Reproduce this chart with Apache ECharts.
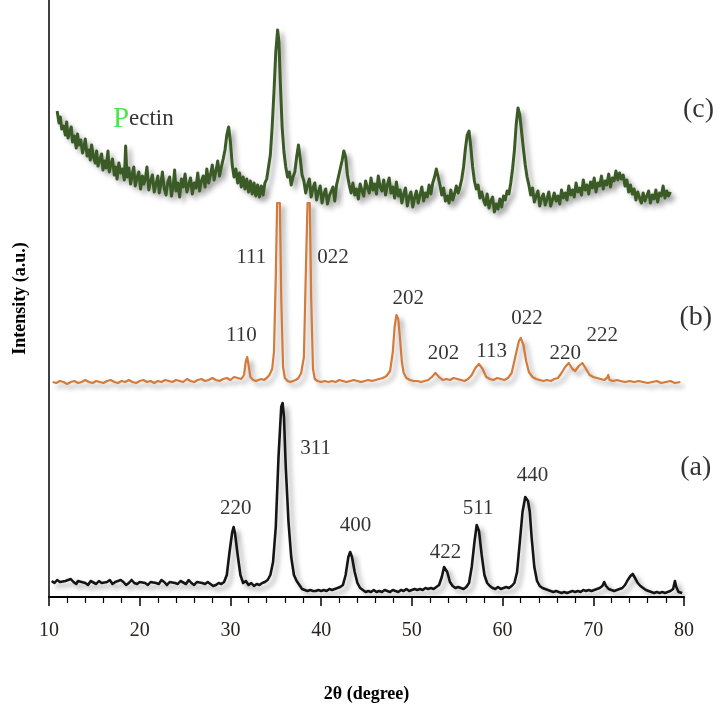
<!DOCTYPE html>
<html><head><meta charset="utf-8">
<script src="https://cdn.jsdelivr.net/npm/echarts@6/dist/echarts.min.js"></script>
<style>html,body{margin:0;padding:0;background:#fff}#c{width:724px;height:716px}</style>
</head><body><div id="c"></div>
<script>
// 2θ tick labels
var xTicks = [10, 20, 30, 40, 50, 60, 70, 80];

// (a) black pattern [2θ, intensity]
var seriesA = [
[10.3,16],[10.6,14],[10.9,17],[11.2,15],[11.4,13],[11.8,16],[12.0,14],[12.4,18],[12.7,15],[13.0,13],[13.2,16],[13.6,15],[14.0,14],[14.3,12],[14.6,16],[14.8,17],[15.2,13],[15.5,16],[15.8,14],[16.0,12],[16.4,15],[16.7,17],[17.0,13],[17.3,15],[17.5,14],[17.9,17],[18.2,15],[18.5,12],[18.8,14],[19.1,17],[19.4,14],[19.7,13],[20.0,15],[20.2,17],[20.6,14],[20.9,12],[21.2,15],[21.4,16],[21.8,14],[22.1,13],[22.4,17],[22.7,15],[23.0,12],[23.3,15],[23.5,17],[23.9,14],[24.2,13],[24.5,16],[24.7,15],[25.1,13],[25.4,17],[25.7,14],[26.0,12],[26.3,15],[26.5,16],[26.9,14],[27.2,13],[27.5,15],[27.8,13],[28.1,11],[28.4,12],[28.7,14],[29.0,13],[29.3,15],[29.6,22],[29.9,45],[30.2,65],[30.35,70],[30.5,64],[30.8,42],[31.1,22],[31.4,14],[31.7,16],[32.0,12],[32.3,14],[32.6,11],[32.9,13],[33.2,12],[33.5,14],[33.8,15],[34.1,17],[34.4,22],[34.7,35],[35.0,70],[35.3,140],[35.6,190],[35.75,194],[35.9,180],[36.1,130],[36.4,75],[36.7,40],[37.0,22],[37.3,16],[37.6,12],[37.9,8],[38.2,7],[38.5,6],[38.8,7],[39.1,6],[39.4,6],[39.7,7],[40.0,6],[40.3,7],[40.6,6],[40.9,8],[41.2,7],[41.5,8],[41.8,9],[42.1,10],[42.4,12],[42.7,22],[43.0,40],[43.2,45],[43.4,40],[43.7,25],[44.0,14],[44.3,9],[44.6,7],[44.9,5],[45.2,6],[45.5,5],[45.8,7],[46.1,5],[46.4,6],[46.7,5],[47.0,7],[47.3,6],[47.6,5],[47.9,7],[48.2,6],[48.5,5],[48.8,7],[49.1,6],[49.4,8],[49.7,6],[50.0,7],[50.3,8],[50.6,7],[50.9,8],[51.2,7],[51.5,9],[51.8,8],[52.1,9],[52.4,8],[52.7,10],[53.0,12],[53.3,20],[53.55,30],[53.7,32],[53.9,25],[54.2,15],[54.5,11],[54.8,9],[55.1,10],[55.4,9],[55.7,8],[56.0,10],[56.3,14],[56.6,30],[56.9,55],[57.15,72],[57.4,66],[57.7,42],[58.0,22],[58.3,14],[58.6,11],[58.9,9],[59.2,8],[59.5,10],[59.8,8],[60.1,9],[60.4,10],[60.7,9],[61.0,11],[61.3,14],[61.6,25],[61.9,55],[62.2,85],[62.5,100],[62.8,96],[63.0,85],[63.2,60],[63.5,30],[63.8,16],[64.1,11],[64.4,9],[64.7,8],[65.0,7],[65.3,6],[65.6,5],[65.9,6],[66.2,5],[66.5,4],[66.8,5],[67.1,4],[67.4,5],[67.7,6],[68.0,5],[68.3,6],[68.6,5],[68.9,7],[69.2,6],[69.5,7],[69.8,6],[70.1,7],[70.4,8],[70.7,9],[71.0,11],[71.2,15],[71.4,11],[71.7,8],[72.0,7],[72.3,6],[72.6,7],[72.9,8],[73.2,9],[73.5,12],[73.8,17],[74.1,21],[74.35,23],[74.6,19],[74.9,14],[75.2,11],[75.5,9],[75.8,7],[76.1,6],[76.4,5],[76.7,4],[77.0,5],[77.3,4],[77.6,5],[77.9,4],[78.2,5],[78.5,6],[78.8,8],[79.0,16],[79.15,10],[79.4,5],[79.8,4]
];

// (b) orange pattern [2θ, intensity]
var seriesB = [
[10.4,215],[10.8,214],[11.2,216],[11.6,215],[12.0,213],[12.4,215],[12.8,216],[13.2,214],[13.6,215],[14.0,217],[14.4,215],[14.8,214],[15.2,216],[15.6,215],[16.0,214],[16.4,216],[16.8,217],[17.2,215],[17.6,214],[18.0,216],[18.4,215],[18.8,217],[19.2,215],[19.6,214],[20.0,216],[20.4,217],[20.8,215],[21.2,216],[21.6,214],[22.0,216],[22.4,215],[22.8,217],[23.2,216],[23.6,215],[24.0,217],[24.4,216],[24.8,215],[25.2,218],[25.6,216],[26.0,215],[26.4,217],[26.8,218],[27.2,216],[27.6,217],[28.0,219],[28.4,217],[28.8,216],[29.2,218],[29.6,219],[30.0,217],[30.4,220],[30.8,219],[31.2,218],[31.5,222],[31.7,236],[31.85,240],[32.0,232],[32.2,220],[32.5,217],[32.8,216],[33.1,217],[33.4,218],[33.7,217],[34.0,219],[34.3,222],[34.6,228],[34.8,245],[35.0,320],[35.15,394],[35.45,394],[35.6,300],[35.8,230],[36.0,219],[36.3,216],[36.6,215],[36.9,216],[37.2,217],[37.5,219],[37.8,224],[38.1,240],[38.3,320],[38.5,394],[38.75,394],[38.9,300],[39.1,228],[39.3,218],[39.6,216],[40.0,215],[40.4,216],[40.8,215],[41.2,216],[41.6,215],[42.0,217],[42.4,216],[42.8,215],[43.2,216],[43.6,217],[44.0,216],[44.4,215],[44.8,216],[45.2,217],[45.6,216],[46.0,217],[46.4,218],[46.8,219],[47.2,221],[47.6,226],[47.9,245],[48.1,270],[48.3,282],[48.5,278],[48.7,258],[48.9,235],[49.1,224],[49.4,219],[49.8,217],[50.2,216],[50.6,216],[51.0,215],[51.4,216],[51.8,217],[52.2,220],[52.6,224],[53.0,220],[53.4,217],[53.8,218],[54.2,217],[54.6,219],[55.0,218],[55.4,217],[55.8,216],[56.2,218],[56.6,222],[57.0,229],[57.4,233],[57.8,228],[58.2,220],[58.6,218],[59.0,217],[59.4,219],[59.8,218],[60.2,217],[60.6,219],[61.0,224],[61.4,240],[61.8,256],[62.0,259],[62.3,252],[62.6,236],[62.9,225],[63.3,220],[63.7,218],[64.1,217],[64.5,216],[64.9,217],[65.3,216],[65.7,218],[66.1,219],[66.5,224],[66.9,230],[67.3,234],[67.7,228],[68.0,226],[68.4,231],[68.8,234],[69.2,228],[69.6,222],[70.0,220],[70.4,219],[70.8,218],[71.2,217],[71.5,219],[71.65,222],[71.8,217],[72.2,216],[72.6,217],[73.0,216],[73.5,215],[74.0,216],[74.5,215],[75.0,216],[75.5,215],[76.0,214],[76.5,215],[77.0,216],[77.5,214],[78.0,215],[78.5,216],[79.0,214],[79.6,215]
];

// (c) green pattern (Pectin) [2θ, intensity]
var seriesC = [
[10.9,486],[11.1,474],[11.25,480],[11.4,468],[11.6,471],[11.8,462],[11.95,475],[12.1,459],[12.3,466],[12.45,470],[12.6,455],[12.8,461],[13.0,449],[13.15,463],[13.3,452],[13.5,457],[13.7,444],[13.85,450],[14.0,458],[14.2,441],[14.4,447],[14.55,437],[14.7,452],[14.9,440],[15.1,434],[15.25,446],[15.4,431],[15.6,437],[15.8,443],[15.95,427],[16.1,436],[16.3,429],[16.5,446],[16.65,425],[16.8,432],[17.0,438],[17.2,422],[17.35,430],[17.5,418],[17.7,434],[17.9,424],[18.1,428],[18.3,417],[18.45,451],[18.6,420],[18.8,429],[19.0,413],[19.2,424],[19.35,430],[19.5,411],[19.7,419],[19.9,425],[20.1,408],[20.3,421],[20.45,413],[20.6,417],[20.8,430],[21.0,407],[21.2,416],[21.4,422],[21.6,405],[21.8,413],[22.0,421],[22.15,404],[22.3,411],[22.5,425],[22.7,409],[22.9,402],[23.1,415],[23.3,420],[23.5,401],[23.7,412],[23.85,427],[24.0,406],[24.2,414],[24.4,400],[24.6,418],[24.8,410],[25.0,423],[25.2,405],[25.4,412],[25.6,419],[25.8,403],[26.0,414],[26.2,409],[26.4,424],[26.6,406],[26.8,416],[27.0,421],[27.2,410],[27.4,428],[27.6,414],[27.8,422],[28.0,432],[28.2,417],[28.4,426],[28.6,436],[28.8,421],[29.0,430],[29.2,438],[29.4,447],[29.6,462],[29.8,470],[30.0,455],[30.2,432],[30.4,420],[30.6,428],[30.8,414],[31.0,424],[31.2,410],[31.4,420],[31.6,408],[31.8,418],[32.0,405],[32.2,416],[32.4,403],[32.6,414],[32.8,401],[33.0,412],[33.2,400],[33.4,411],[33.6,402],[33.8,414],[34.0,418],[34.2,430],[34.4,442],[34.6,470],[34.8,505],[35.0,545],[35.2,567],[35.35,555],[35.5,515],[35.7,470],[35.9,445],[36.1,430],[36.3,420],[36.5,425],[36.7,412],[36.9,420],[37.1,425],[37.3,440],[37.5,452],[37.7,438],[37.9,422],[38.1,416],[38.3,404],[38.5,412],[38.7,418],[38.9,400],[39.1,409],[39.3,414],[39.5,397],[39.7,405],[39.9,411],[40.1,394],[40.3,403],[40.5,408],[40.7,393],[40.9,401],[41.1,399],[41.3,410],[41.5,396],[41.7,412],[41.9,420],[42.1,428],[42.3,436],[42.5,446],[42.7,440],[42.9,422],[43.1,412],[43.3,404],[43.5,414],[43.7,402],[43.9,408],[44.1,398],[44.3,413],[44.5,406],[44.7,401],[44.9,416],[45.1,409],[45.3,404],[45.5,419],[45.7,407],[45.9,413],[46.1,403],[46.3,421],[46.5,410],[46.7,406],[46.9,417],[47.1,402],[47.3,412],[47.5,419],[47.7,404],[47.9,410],[48.1,399],[48.3,415],[48.5,401],[48.7,407],[48.9,394],[49.1,403],[49.3,409],[49.5,391],[49.7,400],[49.9,405],[50.1,390],[50.3,399],[50.5,406],[50.7,394],[50.9,402],[51.1,410],[51.3,396],[51.5,404],[51.7,400],[51.9,412],[52.1,403],[52.3,414],[52.5,420],[52.7,428],[52.9,426],[53.1,412],[53.3,402],[53.5,409],[53.7,396],[53.9,401],[54.1,394],[54.3,407],[54.5,397],[54.7,403],[54.9,411],[55.1,404],[55.3,410],[55.5,418],[55.7,430],[55.9,448],[56.1,462],[56.3,466],[56.5,450],[56.7,430],[56.9,416],[57.1,408],[57.3,412],[57.5,399],[57.7,405],[57.9,397],[58.1,392],[58.3,403],[58.5,389],[58.7,396],[58.9,400],[59.1,385],[59.3,393],[59.5,388],[59.7,398],[59.9,390],[60.1,401],[60.3,397],[60.5,406],[60.7,403],[60.9,414],[61.1,428],[61.3,446],[61.5,472],[61.7,489],[61.9,482],[62.1,465],[62.3,448],[62.5,432],[62.7,420],[62.9,412],[63.1,402],[63.3,409],[63.5,395],[63.7,401],[63.9,406],[64.1,391],[64.3,399],[64.5,403],[64.7,392],[64.9,398],[65.1,405],[65.3,391],[65.5,397],[65.7,404],[65.9,396],[66.1,401],[66.3,393],[66.5,407],[66.7,399],[66.9,404],[67.1,397],[67.3,411],[67.5,402],[67.7,407],[67.9,400],[68.1,414],[68.3,405],[68.5,409],[68.7,402],[68.9,417],[69.1,407],[69.3,412],[69.5,403],[69.7,415],[69.9,409],[70.1,419],[70.3,405],[70.5,414],[70.7,411],[70.9,421],[71.1,408],[71.3,416],[71.5,412],[71.7,423],[71.9,410],[72.1,419],[72.3,416],[72.5,426],[72.7,417],[72.9,424],[73.1,418],[73.3,422],[73.5,411],[73.7,417],[73.9,405],[74.1,412],[74.3,403],[74.5,408],[74.7,397],[74.9,405],[75.1,399],[75.3,394],[75.5,404],[75.7,396],[75.9,401],[76.1,406],[76.3,394],[76.5,402],[76.7,398],[76.9,407],[77.1,395],[77.3,404],[77.5,401],[77.7,411],[77.9,399],[78.1,406],[78.3,401],[78.5,405]
];

// peak / panel annotations [2θ, intensity, text]
var peakLabels = [
[32.3,340,'111'],[41.3,340,'022'],[31.2,262,'110'],[49.6,299,'202'],[53.5,244,'202'],[58.8,246,'113'],[62.7,279,'022'],[66.9,244,'220'],[71.0,262,'222'],
[30.6,89,'220'],[39.4,149,'311'],[43.8,72,'400'],[53.7,45,'422'],[57.3,89,'511'],[63.3,122,'440']
];
var panelLabels = [[81.3,129,'(a)'],[81.3,279,'(b)'],[81.6,487,'(c)']];
var sampleName = [[20.4,478,'Pectin']];

var chart = echarts.init(document.getElementById('c'));
var serif = '"Liberation Serif","Times New Roman",serif';
var shadow = {shadowColor:'rgba(0,0,0,0.35)', shadowBlur:5, shadowOffsetX:4, shadowOffsetY:4};
function lineSeries(data, color, w) {
  return {type:'line', data:data, showSymbol:false, symbol:'none', silent:true, animation:false,
    lineStyle:Object.assign({color:color, width:w, join:'round'}, shadow), z:3};
}
function textSeries(rows, size) {
  return {type:'scatter', symbolSize:0, clip:false, silent:true, z:5,
    data:rows.map(function(d){return {value:[d[0],d[1]], name:d[2]};}),
    label:{show:true, position:'inside', formatter:function(p){return p.name;},
      fontFamily:serif, fontSize:size, color:'#000', textBorderWidth:0}};
}
chart.setOption({
  animation:false,
  grid:{left:49, right:40, top:0, bottom:119},
  xAxis:{type:'value', min:xTicks[0], max:xTicks[xTicks.length-1], interval:10,
    axisLine:{lineStyle:{color:'#000', width:2}},
    axisTick:{length:9, lineStyle:{color:'#000', width:1.5}},
    minorTick:{show:true, splitNumber:5, length:6, lineStyle:{color:'#000', width:1.2}},
    splitLine:{show:false},
    axisLabel:{margin:24, fontFamily:serif, fontSize:20, color:'#2a2220'},
    name:'2θ (degree)', nameLocation:'middle', nameGap:88,
    nameTextStyle:{fontFamily:serif, fontWeight:'bold', fontSize:18, color:'#000'}},
  yAxis:{type:'value', min:0, max:597,
    axisLine:{show:true, lineStyle:{color:'#000', width:1.5}},
    axisTick:{show:false}, axisLabel:{show:false}, splitLine:{show:false},
    name:'Intensity (a.u.)', nameLocation:'middle', nameGap:20, nameRotate:90,
    nameTextStyle:{fontFamily:serif, fontWeight:'bold', fontSize:18, color:'#000'}},
  series:[
    lineSeries(seriesC, '#3a5a26', 3),
    lineSeries(seriesB, '#d47a3a', 2.2),
    lineSeries(seriesA, '#151515', 2.6),
    textSeries(peakLabels, 21),
    textSeries(panelLabels, 28),
    {type:'scatter', symbolSize:0, clip:false, silent:true, z:5,
      data:sampleName.map(function(d){return {value:[d[0],d[1]], name:d[2]};}),
      label:{show:true, position:'inside',
        formatter:function(p){return '{p|' + p.name.charAt(0) + '}{r|' + p.name.slice(1) + '}';},
        rich:{p:{fontFamily:serif, fontSize:29, color:'#22e022'}, r:{fontFamily:serif, fontSize:23, color:'#000'}}}}
  ]
});
</script>
</body></html>
